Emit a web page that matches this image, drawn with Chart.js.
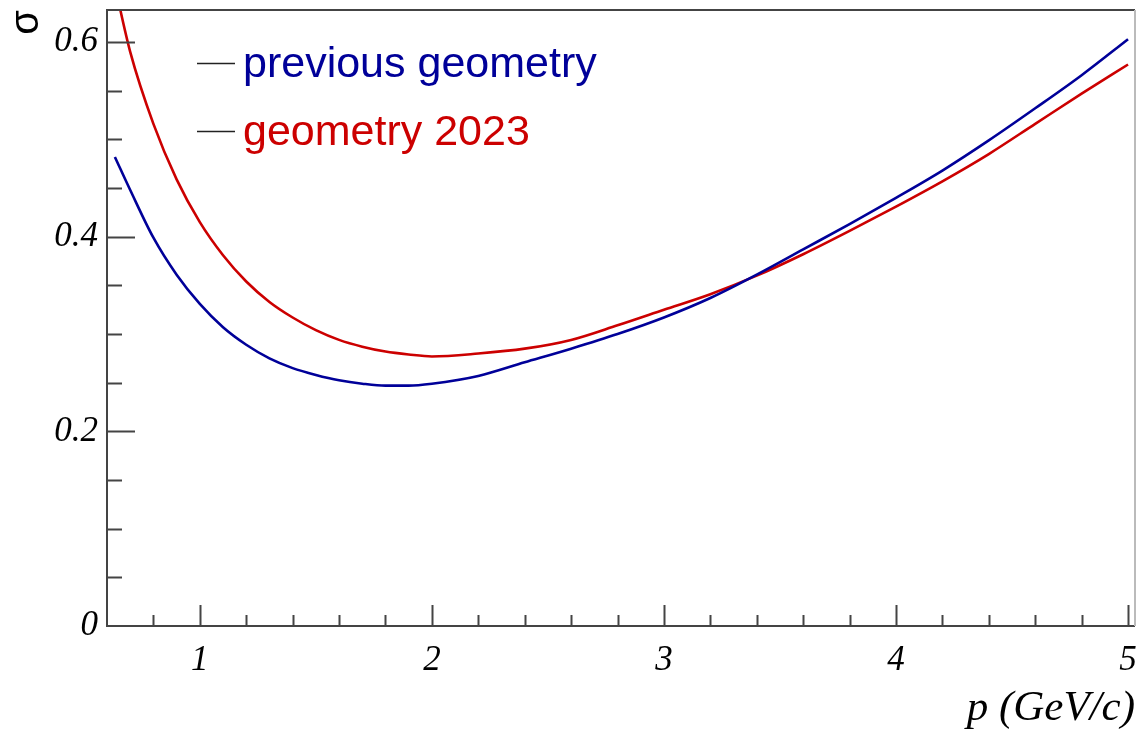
<!DOCTYPE html>
<html>
<head>
<meta charset="utf-8">
<script src="https://cdn.jsdelivr.net/npm/chart.js@4"></script>
<style>
  html, body { margin: 0; padding: 0; background: #fff; }
  #wrap { width: 1137px; height: 730px; }
</style>
</head>
<body>
<div id="wrap"><canvas id="sigmaChart"></canvas></div>
<script>
// momentum points (GeV/c) and resolution for both geometries
const momentum = [0.634, 0.7, 0.8, 0.9, 1.0, 1.1, 1.2, 1.3, 1.4, 1.5, 1.6, 1.7, 1.8, 1.9,
                  2.0, 2.2, 2.4, 2.6, 2.8, 3.0, 3.2, 3.4, 3.6, 3.8, 4.0, 4.2, 4.4, 4.6,
                  4.8, 5.0];
const sigmaPrevious = [0.482, 0.448, 0.399, 0.361, 0.331, 0.307, 0.289, 0.275, 0.265, 0.258,
                       0.2525, 0.249, 0.247, 0.247, 0.249, 0.257, 0.271, 0.285, 0.300, 0.317,
                       0.337, 0.361, 0.387, 0.413, 0.440, 0.468, 0.499, 0.532, 0.566, 0.603];
const sigmaNew = [0.658, 0.590, 0.516, 0.459, 0.415, 0.381, 0.354, 0.333, 0.317, 0.304,
                  0.294, 0.287, 0.282, 0.279, 0.277, 0.280, 0.285, 0.294, 0.309, 0.325,
                  0.341, 0.360, 0.382, 0.406, 0.431, 0.457, 0.485, 0.516, 0.547, 0.577];
const seriesNames = ["previous geometry", "geometry 2023"];
const seriesColors = ["#000099", "#cc0000"];
const xTicks = [1, 2, 3, 4, 5];
const yTicks = [0, 0.2, 0.4, 0.6];

const AXIS_COLOR = "#444";
const SERIF = "'Liberation Serif', 'Times New Roman', serif";
const TICK_FONT = { family: SERIF, style: "italic", size: 35 };

function points(ys) {
  return momentum.map((p, i) => ({ x: p, y: ys[i] }));
}

// ticks drawn inside the frame, ROOT style
const frameTicks = {
  id: "frameTicks",
  afterDatasetsDraw(chart) {
    const { ctx, chartArea: a, scales: { x, y } } = chart;
    ctx.save();
    ctx.strokeStyle = AXIS_COLOR;
    ctx.lineWidth = 2;
    ctx.beginPath();
    for (let i = 4; i <= 25; i++) {
      const px = Math.round(x.getPixelForValue(i * 0.2)) + 0.5;
      const len = i % 5 === 0 ? 21 : 11;
      ctx.moveTo(px, a.bottom);
      ctx.lineTo(px, a.bottom - len);
    }
    for (let i = 1; i <= 12; i++) {
      const py = Math.round(y.getPixelForValue(i * 0.05)) + 0.5;
      const len = i % 4 === 0 ? 28 : 15;
      ctx.moveTo(a.left, py);
      ctx.lineTo(a.left + len, py);
    }
    ctx.stroke();
    // frame
    ctx.beginPath();
    ctx.moveTo(a.right, a.top);
    ctx.lineTo(a.left, a.top);
    ctx.lineTo(a.left, a.bottom);
    ctx.lineTo(a.right, a.bottom);
    ctx.stroke();
    ctx.strokeStyle = "#bbb";
    ctx.beginPath();
    ctx.moveTo(a.right, a.top);
    ctx.lineTo(a.right, a.bottom);
    ctx.stroke();
    ctx.restore();
  }
};

// legend box inside the pad
const padLegend = {
  id: "padLegend",
  afterDraw(chart) {
    const { ctx } = chart;
    const rows = [66, 134];
    ctx.save();
    ctx.font = "43px 'Liberation Sans', Arial, sans-serif";
    ctx.textBaseline = "alphabetic";
    chart.data.datasets.forEach((ds, i) => {
      const yRow = rows[i];
      ctx.strokeStyle = "#222";
      ctx.lineWidth = 1.5;
      ctx.beginPath();
      ctx.moveTo(197, yRow - 2.5);
      ctx.lineTo(235, yRow - 2.5);
      ctx.stroke();
      ctx.fillStyle = ds.borderColor;
      ctx.fillText(ds.label, 243, yRow + 11);
    });
    ctx.restore();
  }
};

new Chart(document.getElementById("sigmaChart"), {
  type: "line",
  data: {
    datasets: [
      { label: seriesNames[0], data: points(sigmaPrevious), borderColor: seriesColors[0] },
      { label: seriesNames[1], data: points(sigmaNew), borderColor: seriesColors[1] }
    ]
  },
  options: {
    responsive: true,
    maintainAspectRatio: false,
    animation: false,
    layout: { padding: { top: 10, right: 2, left: 0, bottom: 0 } },
    elements: {
      point: { radius: 0 },
      line: { borderWidth: 2.6, cubicInterpolationMode: "monotone", fill: false }
    },
    plugins: { legend: { display: false }, tooltip: { enabled: false } },
    scales: {
      x: {
        type: "linear",
        min: 0.6,
        max: 5.03,
        afterFit(scale) {
          scale.height = 104;
          scale.paddingLeft = 0;
          scale.paddingRight = 0;
        },
        afterBuildTicks(scale) { scale.ticks = xTicks.map(v => ({ value: v })); },
        grid: { display: false, drawTicks: false },
        border: { display: false },
        ticks: {
          padding: 14,
          color: "#000",
          font: TICK_FONT,
          callback: v => String(v)
        },
        title: {
          display: true,
          text: "p (GeV/c)",
          align: "end",
          color: "#000",
          font: { family: SERIF, style: "italic", size: 43, lineHeight: 1 },
          padding: { top: 0, bottom: 0 }
        }
      },
      y: {
        type: "linear",
        min: 0,
        max: 0.633,
        afterFit(scale) {
          scale.width = 107;
          scale.paddingTop = 0;
          scale.paddingBottom = 0;
        },
        afterBuildTicks(scale) { scale.ticks = yTicks.map(v => ({ value: v })); },
        grid: { display: false, drawTicks: false },
        border: { display: false },
        ticks: {
          padding: 9,
          color: "#000",
          font: TICK_FONT,
          callback: v => (v === 0 ? "0" : v.toFixed(1))
        },
        title: {
          display: true,
          text: "σ",
          align: "end",
          color: "#000",
          font: { family: "'Liberation Sans', Arial, sans-serif", size: 40, lineHeight: 1 },
          padding: { top: 7, bottom: 0 }
        }
      }
    }
  },
  plugins: [frameTicks, padLegend]
});
</script>
</body>
</html>
